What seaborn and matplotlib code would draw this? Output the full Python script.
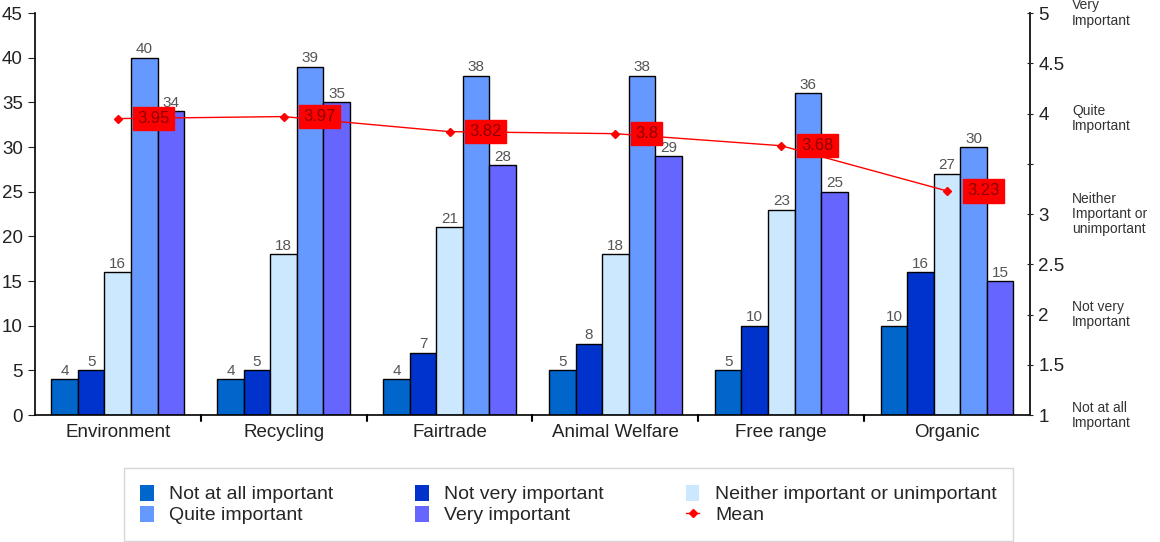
import pandas as pd
import matplotlib.pyplot as plt
import seaborn as sns
from matplotlib.patches import Patch
from matplotlib.lines import Line2D

categories = ['Environment', 'Recycling', 'Fairtrade', 'Animal Welfare', 'Free range', 'Organic']
levels = ['Not at all important', 'Not very important', 'Neither important or unimportant',
          'Quite important', 'Very important']
not_at_all = [4, 4, 4, 5, 5, 10]
not_very = [5, 5, 7, 8, 10, 16]
neither = [16, 18, 21, 18, 23, 27]
quite = [40, 39, 38, 38, 36, 30]
very = [34, 35, 28, 29, 25, 15]
means = [3.95, 3.97, 3.82, 3.8, 3.68, 3.23]
colors = ['#0066CC', '#0033CC', '#CCE8FF', '#6699FF', '#6666FF']
right_ticks = [1, 1.5, 2, 2.5, 3, 3.5, 4, 4.5, 5]
right_ticklabels = ['1', '1.5', '2', '2.5', '3', '', '4', '4.5', '5']
scale_names = [(5, 'Very\nImportant'), (3.95, 'Quite\nImportant'),
               (3.0, 'Neither\nImportant or\nunimportant'), (2.0, 'Not very\nImportant'),
               (1.0, 'Not at all\nImportant')]

rows = []
for lvl, vals in zip(levels, [not_at_all, not_very, neither, quite, very]):
    for cat, v in zip(categories, vals):
        rows.append({'category': cat, 'level': lvl, 'value': v})
df = pd.DataFrame(rows)

sns.set_style('white')
plt.rcParams['font.family'] = ['Liberation Sans', 'DejaVu Sans']

fig = plt.figure(figsize=(11.6, 5.42), dpi=100)
ax = fig.add_axes([0.030, 0.234, 0.858, 0.742])

sns.barplot(data=df, x='category', y='value', hue='level', hue_order=levels,
            order=categories, palette=colors, saturation=1, edgecolor='black',
            linewidth=1, width=0.8, ax=ax, legend=False)
for cont in ax.containers:
    ax.bar_label(cont, fontsize=11, color='#555555', padding=1)

ax.set_ylim(0, 45)
ax.set_yticks(range(0, 50, 5))
ax.set_xlim(-0.5, len(categories) - 0.5)
ax.set_xlabel('')
ax.set_ylabel('')
ax.tick_params(axis='y', labelsize=13.5, length=5, direction='out', left=True, colors='#222222')
ax.tick_params(axis='x', labelsize=13.5, length=0, pad=6, colors='#222222')
for s in ['left', 'bottom', 'right']:
    ax.spines[s].set_color('black')
    ax.spines[s].set_linewidth(1.2)
ax.spines['top'].set_visible(False)
for i in range(1, len(categories)):
    ax.plot([i - 0.5, i - 0.5], [0, -0.6], color='black', lw=1.5, clip_on=False)

ax2 = ax.twinx()
ax2.plot(range(len(categories)), means, color='red', lw=1, marker='D', markersize=4)
for i, m in enumerate(means):
    ax2.text(i + 0.12, m, f'{m:g}', fontsize=12, color='#8B0000', va='center', ha='left',
             bbox=dict(boxstyle='square,pad=0.25', fc='red', ec='red'))
ax2.set_ylim(1, 5)
ax2.set_yticks(right_ticks)
ax2.set_yticklabels(right_ticklabels)
ax2.tick_params(axis='y', labelsize=13.5, length=5, direction='inout', right=True, colors='#222222')
for s in ['left', 'top', 'bottom']:
    ax2.spines[s].set_visible(False)
ax2.spines['right'].set_linewidth(1.2)
for v, txt in scale_names:
    ax2.text(1.042, v, txt, transform=ax2.get_yaxis_transform(), fontsize=10,
             color='#333333', va='center', ha='left', linespacing=1.1)

handles = [Patch(fc=c, ec='none') for c in colors]
handles.append(Line2D([0], [0], color='red', marker='D', markersize=4, lw=1))
labels = levels + ['Mean']
order = [0, 3, 1, 4, 2, 5]
fig.legend([handles[i] for i in order], [labels[i] for i in order],
           loc='lower center', bbox_to_anchor=(0.49, 0.0), ncol=3, fontsize=14,
           frameon=True, edgecolor='#cccccc', fancybox=False, handlelength=0.7,
           handleheight=0.9, columnspacing=4.2, labelspacing=0.12, borderpad=0.85,
           borderaxespad=0.05, handletextpad=0.8)

fig.savefig('out.png', dpi=100)
